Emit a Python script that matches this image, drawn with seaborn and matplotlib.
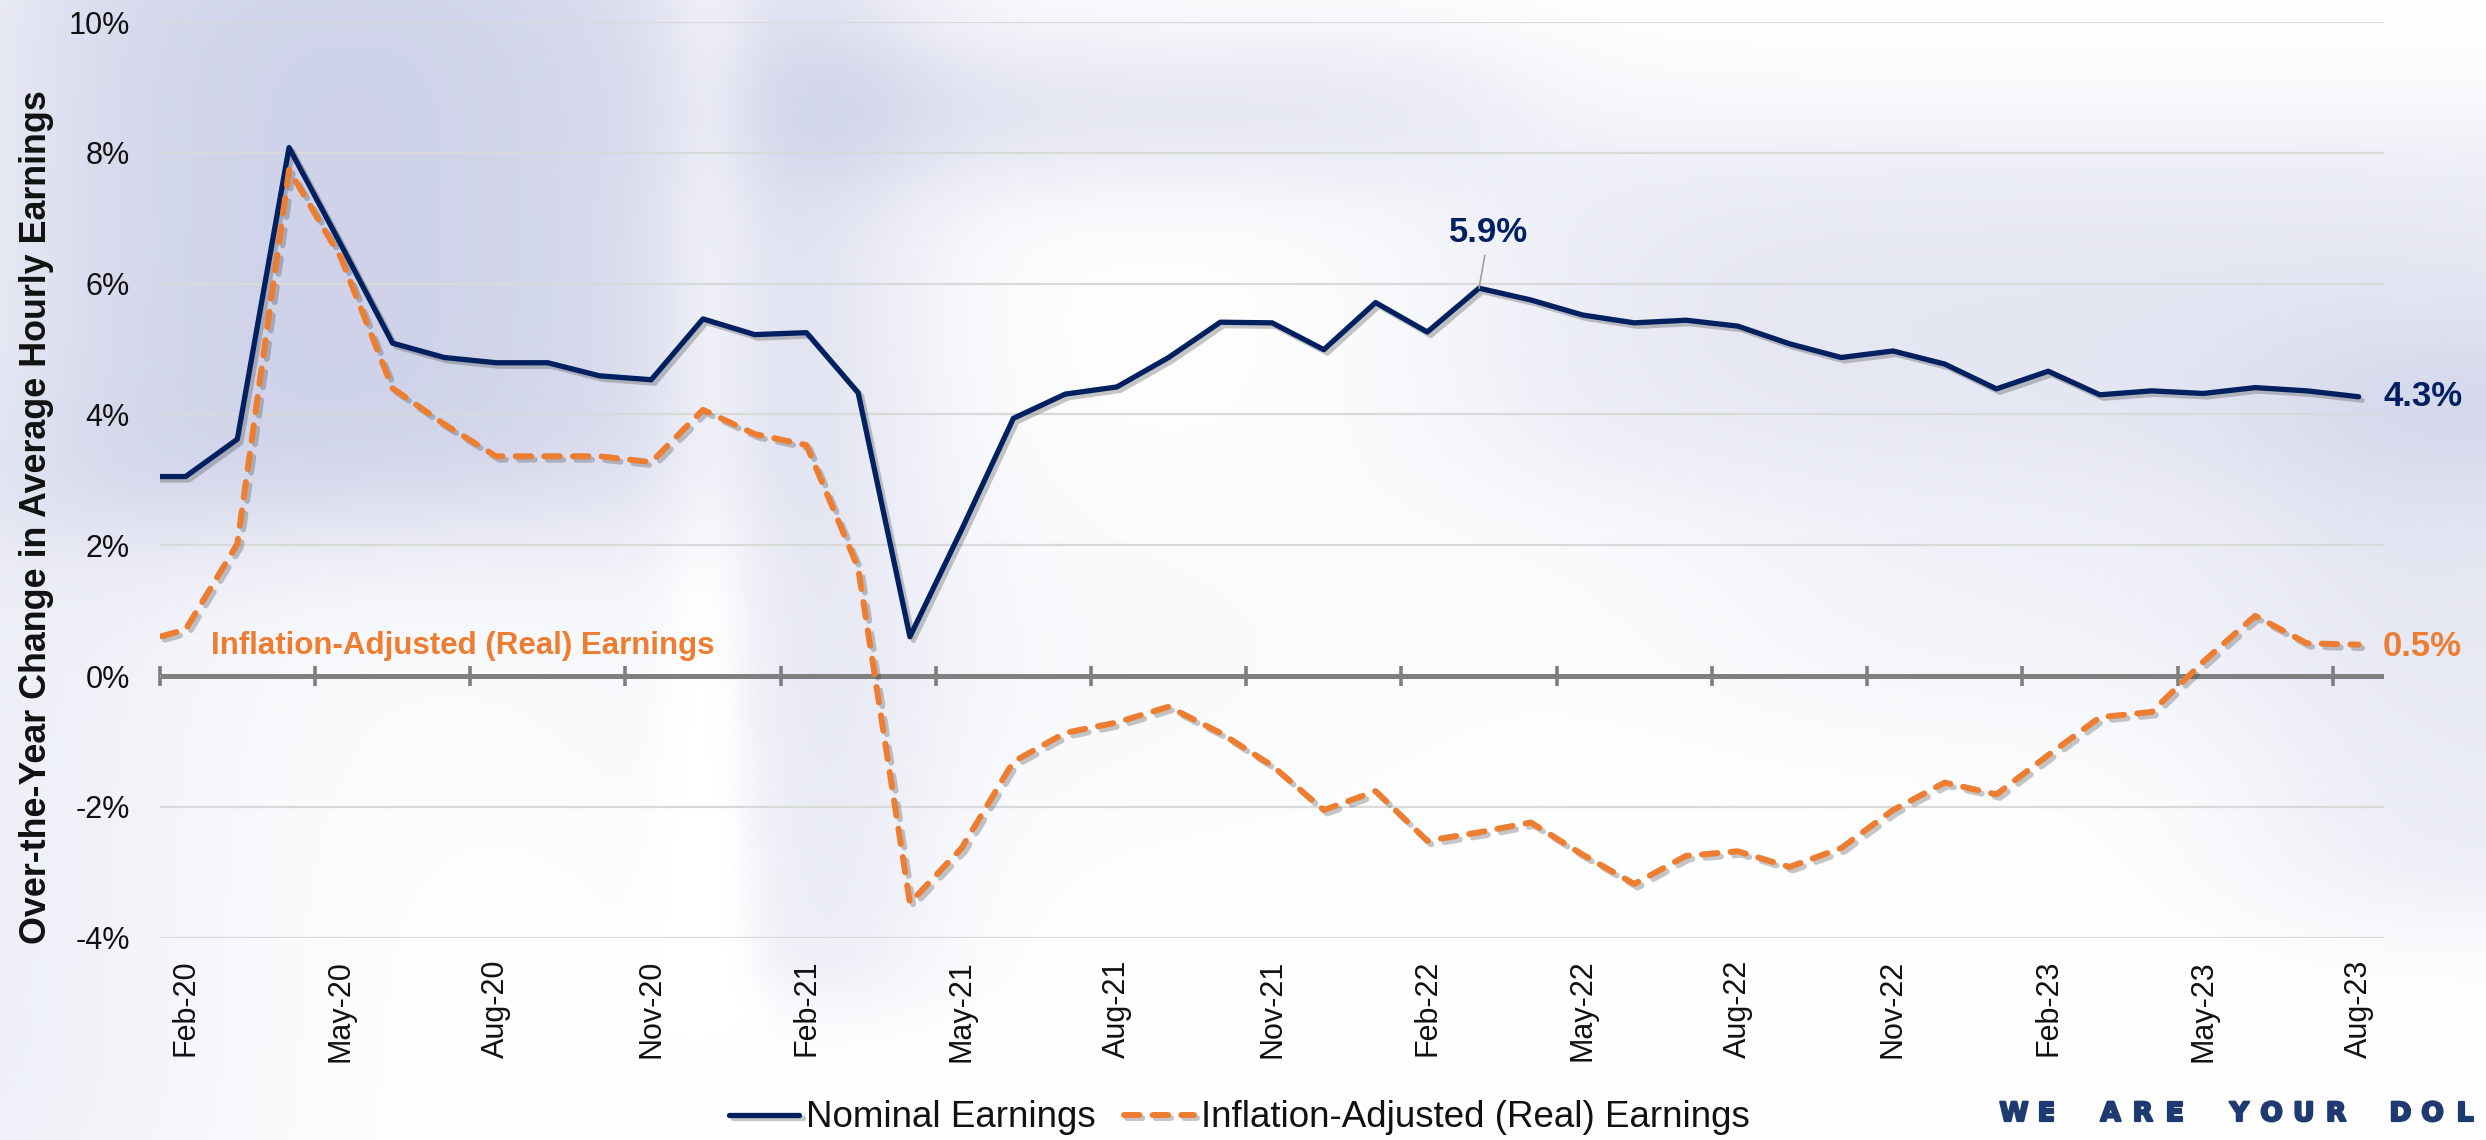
import matplotlib

matplotlib.use("Agg")
import matplotlib.patheffects as pe   # noqa: E402
import matplotlib.pyplot as plt       # noqa: E402
import numpy as np                    # noqa: E402
import pandas as pd                   # noqa: E402
import seaborn as sns                 # noqa: E402

# ---------------------------------------------------------------------------
# Data (over-the-year % change, Jan-20 .. Aug-23; Jan-20 sits just off the axis)
# ---------------------------------------------------------------------------
months = list(pd.date_range("2020-01-01", "2023-08-01", freq="MS").strftime("%b-%y"))

nominal = [3.05, 3.05, 3.62, 8.08, 6.60, 5.09, 4.87, 4.79, 4.79, 4.59, 4.53, 5.46,
           5.22, 5.25, 4.33, 0.60, 2.24, 3.94, 4.31, 4.42, 4.87, 5.41, 5.40, 4.99,
           5.71, 5.26, 5.93, 5.75, 5.52, 5.40, 5.44, 5.35, 5.08, 4.87, 4.97, 4.77,
           4.39, 4.66, 4.30, 4.36, 4.32, 4.41, 4.36, 4.27]

real = [0.49, 0.71, 2.02, 7.74, 6.40, 4.40, 3.85, 3.36, 3.36, 3.36, 3.27, 4.07,
        3.70, 3.53, 1.65, -3.47, -2.63, -1.31, -0.87, -0.71, -0.47, -0.87, -1.37, -2.05,
        -1.76, -2.52, -2.39, -2.24, -2.73, -3.18, -2.75, -2.68, -2.92, -2.63, -2.05, -1.63,
        -1.81, -1.21, -0.63, -0.55, 0.22, 0.92, 0.50, 0.48]

series_names = ["Nominal Earnings", "Inflation-Adjusted (Real) Earnings"]
tick_labels = months[1::3]          # Feb-20, May-20, ... Aug-23
y_ticks = list(range(-4, 11, 2))
peak_label = "5.9%"
peak_month = "Mar-22"

NAVY = "#002060"
ORANGE = "#ED7D31"
GRID = "#d9d9d9"
AXIS = "#7f7f7f"
TEXT = "#111111"

sns.set_style("white")
plt.rcParams["font.family"] = ["Liberation Sans", "DejaVu Sans"]

fig = plt.figure(figsize=(24.86, 11.40), dpi=100)
fig.patch.set_facecolor("white")

# ---------------------------------------------------------------------------
# Soft lavender photo-like backdrop (decoration only)
# ---------------------------------------------------------------------------
gx, gy = np.meshgrid(np.linspace(0, 1, 500), np.linspace(0, 1, 230))


def _soft(x0, x1, y0, y1, s):
    sig = lambda v: 1 / (1 + np.exp(-v / s))
    return sig(gx - x0) * sig(x1 - gx) * sig(gy - y0) * sig(y1 - gy)


blobs = [(0.00, 0.28, -0.1, 0.46, 0.035, 0.75),
         (-0.1, 0.07, 0.40, 1.10, 0.040, 0.30),
         (0.30, 0.36, -0.1, 0.88, 0.020, 0.40),
         (0.31, 0.60, 0.04, 0.15, 0.025, 0.45),
         (0.60, 1.10, 0.12, 0.42, 0.035, 0.40),
         (0.70, 0.95, 0.42, 0.62, 0.040, 0.22),
         (0.92, 1.10, 0.30, 0.80, 0.030, 0.35),
         (0.20, 0.55, 0.45, 0.70, 0.060, 0.12)]
strength = np.zeros_like(gx)
for x0, x1, y0, y1, s, w in blobs:
    strength += w * _soft(x0, x1, y0, y1, s)
strength -= 0.35 * _soft(0.275, 0.295, -0.1, 0.9, 0.008)
strength = np.clip(strength, 0, 0.85)
lav = np.array([0.74, 0.76, 0.88])
img = 1 - strength[..., None] * (1 - lav)

bg = fig.add_axes([0, 0, 1, 1], zorder=-10)
bg.imshow(img, aspect="auto", extent=(0, 1, 0, 1), interpolation="bicubic")
bg.axis("off")

# ---------------------------------------------------------------------------
# Main chart
# ---------------------------------------------------------------------------
ax = fig.add_axes([0.06424, 0.17754, 0.89493, 0.80316])
ax.patch.set_alpha(0)

n = len(months)
df = pd.DataFrame({
    "x": np.tile(np.arange(n), 2),
    "value": nominal + real,
    "series": [series_names[0]] * n + [series_names[1]] * n,
})
sns.lineplot(data=df, x="x", y="value", hue="series", style="series",
             palette={series_names[0]: NAVY, series_names[1]: ORANGE},
             dashes={series_names[0]: "", series_names[1]: (2.6, 2.2)},
             linewidth=4, legend=False, sort=False, ax=ax)

lines = ax.lines[:2]
lines[0].set_linewidth(3.8)
lines[1].set_linewidth(4.3)
lines[1].set_dash_capstyle("round")
for ln in lines:
    ln.set_zorder(3)
    ln.set_path_effects([pe.SimpleLineShadow(offset=(2.5, -2.5), shadow_color="#444444", alpha=0.3),
                         pe.Normal()])

ax.set_xlim(0.5, n - 0.5)
ax.set_ylim(y_ticks[0], y_ticks[-1])
ax.set_yticks(y_ticks)
ax.yaxis.set_major_formatter(lambda v, p: f"{v:.0f}%")
ax.set_xticks(np.arange(1, n, 3))
ax.set_xticklabels(tick_labels, rotation=90)
ax.tick_params(axis="x", length=0, pad=16, labelsize=22, labelcolor=TEXT)
ax.tick_params(axis="y", length=0, pad=21.4, labelsize=22, labelcolor=TEXT)
ax.grid(axis="y", color=GRID, lw=1.6)
ax.grid(axis="x", visible=False)
ax.set_axisbelow(True)
for s in ax.spines.values():
    s.set_visible(False)
ax.set_xlabel("")
ax.set_ylabel("")

# zero line with category-boundary tick marks
ax.axhline(0, color=AXIS, lw=3.6, zorder=1.5, solid_capstyle="butt")
zero = ax.secondary_xaxis((0 - y_ticks[0]) / (y_ticks[-1] - y_ticks[0]))
zero.set_xticks(np.arange(0.5, n - 1, 3))
zero.tick_params(direction="inout", length=14.5, width=2.6, color=AXIS, labelbottom=False)
zero.spines["bottom"].set_visible(False)

# annotations
last = n - 1
ax.annotate(f"{nominal[-1]:.1f}%", xy=(last, nominal[-1]), xytext=(17.6, 0),
            textcoords="offset points", ha="left", va="center",
            fontsize=25, fontweight="bold", color=NAVY)
ax.annotate(f"{real[-1]:.1f}%", xy=(last, real[-1]), xytext=(17.6, -1.5),
            textcoords="offset points", ha="left", va="center",
            fontsize=25, fontweight="bold", color=ORANGE)
pk = months.index(peak_month)
ax.annotate(peak_label, xy=(pk, nominal[pk]), xytext=(7, 40),
            textcoords="offset points", ha="center", va="center",
            fontsize=25, fontweight="bold", color=NAVY,
            arrowprops=dict(arrowstyle="-", color="#a0a0a0", lw=1.2, shrinkA=2, shrinkB=0))
ax.text(1.49, 0.34, series_names[1], ha="left", va="baseline",
        fontsize=22.5, fontweight="bold", color=ORANGE)

fig.text(37 / 2486, 1 - 517 / 1140, "Over-the-Year Change in Average Hourly Earnings",
         rotation=90, ha="center", va="center", fontsize=25.8, fontweight="bold", color=TEXT)

fig.legend(lines, series_names, loc="center", bbox_to_anchor=(0.4986, 0.0193), ncol=2,
           frameon=False, fontsize=26.5, handlelength=1.9, handletextpad=0.19,
           columnspacing=0.76, labelcolor=TEXT)

# footer tag, letter-spaced
tag = "WE ARE YOUR DOL"
tag_color = "#1f3a70"
for k, ch in enumerate(tag):
    fig.text((2014 + k * 32.2) / 2486, 1 - 1114 / 1140, ch, ha="center", va="center",
             fontsize=19, fontweight="bold", color=tag_color, family="DejaVu Sans",
             path_effects=[pe.withStroke(linewidth=1.6, foreground=tag_color)])

fig.savefig("out.png", dpi=100)
plt.close(fig)
